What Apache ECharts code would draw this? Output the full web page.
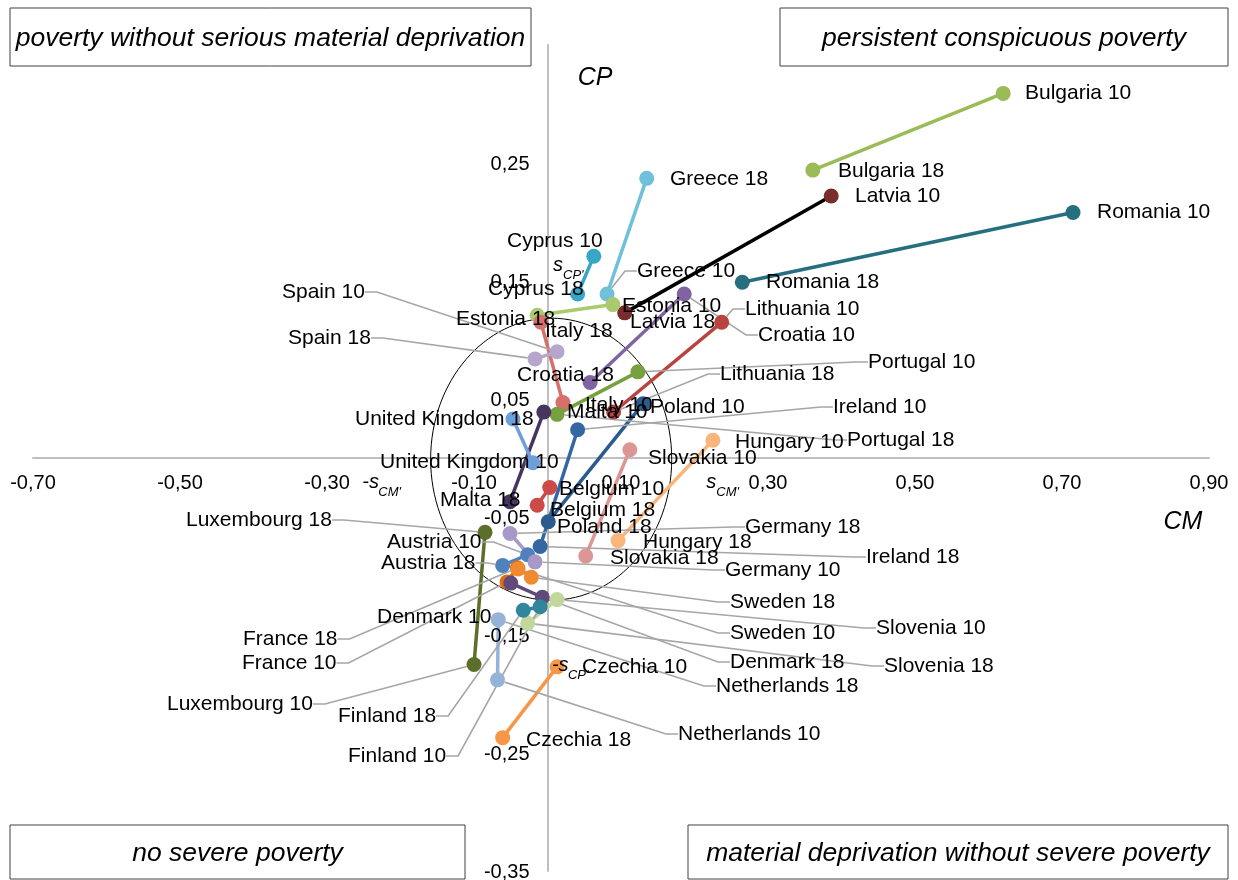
<!DOCTYPE html>
<html><head><meta charset="utf-8">
<script src="https://cdn.jsdelivr.net/npm/echarts@6/dist/echarts.min.js"></script>
<style>html,body{margin:0;padding:0;background:#fff}#c{width:1238px;height:880px}</style>
</head><body><div id="c"></div>
<script>
// ---- data ----
const countries = ['Bulgaria','Latvia','Romania','Greece','Cyprus','Estonia','Lithuania','Croatia','Italy','Spain','Portugal','Malta','United Kingdom','Poland','Ireland','Belgium','Slovakia','Hungary','Luxembourg','Czechia','Austria','Germany','France','Denmark','Sweden','Slovenia','Netherlands','Finland'];
const cm10 = [0.620,0.386,0.715,0.081,0.063,0.089,0.237,0.186,0.021,0.013,0.123,-0.005,-0.020,0.130,0.041,0.003,0.112,0.225,-0.100,0.013,-0.027,-0.017,-0.055,-0.050,-0.040,0.013,-0.068,-0.010];
const cp10 = [0.309,0.222,0.208,0.139,0.171,0.130,0.115,0.139,0.047,0.090,0.073,0.039,-0.004,0.046,0.024,-0.025,0.007,0.015,-0.175,-0.177,-0.082,-0.088,-0.105,-0.106,-0.094,-0.120,-0.188,-0.126];
const cm18 = [0.361,0.105,0.265,0.135,0.041,-0.014,0.090,0.058,-0.009,-0.017,0.013,-0.051,-0.047,0.001,-0.010,-0.014,0.052,0.096,-0.085,-0.061,-0.061,-0.051,-0.041,-0.007,-0.022,-0.027,-0.067,-0.033];
const cp18 = [0.244,0.123,0.149,0.237,0.139,0.121,0.039,0.064,0.115,0.084,0.037,-0.037,0.033,-0.054,-0.075,-0.040,-0.083,-0.070,-0.063,-0.237,-0.091,-0.064,-0.093,-0.118,-0.101,-0.140,-0.137,-0.129];
const xTickVals = [-0.70,-0.50,-0.30,-0.10,0.10,0.30,0.50,0.70,0.90];
const yTickVals = [-0.35,-0.25,-0.15,-0.05,0.05,0.15,0.25];
const xRange = [-0.70, 0.90], yRange = [-0.35, 0.35];
const ellipse = [[0.005, -0.001, 0.164, 0.1195]];
const sdMarks = [['s',"CP'",0.0075,0.161],['-s',"CM'",-0.252,-0.023],['s',"CM'",0.216,-0.023],['-s',"CP'",0.006,-0.178]];

// ---- styles ----
const markerColors = ['#9bbb59','#7b2c2c','#256f7f','#6fc0d8','#38a6c5','#a9cb6d','#b9433f','#8064a2','#d6706c','#b7a6cc','#77a03f','#46355e','#6e9fd8','#2b5b8e','#3366a3','#cc4a47','#dc9694','#fab57a','#5b6f2b','#f79646','#4f81bd','#a898c8','#e46c0a','#604a7b','#f08a30','#c3d69b','#95b3d7','#31859c'];
const lineColors = markerColors.map((c,i)=> countries[i]==='Latvia' ? '#000000' : c);
// label placement (left x, middle y in px, leader line)
const labelPos = {
 'Bulgaria 10':[1025,93,0],'Bulgaria 18':[838,171,0],'Latvia 10':[855,196,0],'Romania 10':[1097,212,0],
 'Greece 18':[670,179,0],'Romania 18':[766,282,0],'Cyprus 10':[507,241,0],'Cyprus 18':[488,289,0],
 'Greece 10':[637,271,1],'Estonia 10':[622,306,0],'Estonia 18':[456,319,0],'Latvia 18':[630,322,0],
 'Lithuania 10':[745,309,1],'Croatia 10':[758,335,1],'Italy 18':[545,331,0],'Spain 10':[282,292,1],
 'Spain 18':[288,338,1],'Portugal 10':[868,362,1],'Croatia 18':[517,375,0],'Lithuania 18':[720,374,1],
 'Italy 10':[585,405,0],'Poland 10':[650,407,0],'Ireland 10':[833,407,1],'Malta 10':[567,412,0],
 'United Kingdom 18':[355,419,0],'Hungary 10':[735,442,0],'Portugal 18':[847,440,1],'Slovakia 10':[648,458,0],
 'United Kingdom 10':[380,462,0],'Belgium 10':[559,489,0],'Malta 18':[440,500,0],'Belgium 18':[550,510,0],
 'Luxembourg 18':[186,520,1],'Poland 18':[557,527,0],'Germany 18':[745,527,1],'Hungary 18':[643,542,0],
 'Austria 10':[387,542,1],'Ireland 18':[866,557,1],'Slovakia 18':[610,558,0],'Austria 18':[381,563,1],
 'Germany 10':[725,570,1],'Sweden 18':[730,602,1],'Denmark 10':[377,617,0],'Slovenia 10':[876,628,1],
 'Sweden 10':[730,633,1],'France 18':[243,639,1],'Denmark 18':[730,662,1],'France 10':[242,663,1],
 'Slovenia 18':[884,666,1],'Czechia 10':[582,667,0],'Netherlands 18':[716,686,1],'Luxembourg 10':[167,704,1],
 'Finland 18':[338,716,1],'Netherlands 10':[678,734,1],'Czechia 18':[526,740,0],'Finland 10':[348,756,1]
};
const FONT = '"Liberation Sans", Arial, sans-serif';
const fmt = v => v.toFixed(2).replace('.', ',');

const series = [];
countries.forEach((c,i)=>{
  series.push({type:'line', silent:true, z:2, showSymbol:false, symbol:'none',
    data:[[cm10[i],cp10[i]],[cm18[i],cp18[i]]],
    lineStyle:{color:lineColors[i], width:3.5}, animation:false});
});
const pts = [];
countries.forEach((c,i)=>{
  [['10',cm10[i],cp10[i]],['18',cm18[i],cp18[i]]].forEach(([yr,x,y])=>{
    const name = c+' '+yr;
    const lp = labelPos[name];
    pts.push({name, value:[x,y], itemStyle:{color:markerColors[i], opacity:1},
      labelLine:{show: !!(lp && lp[2])}});
  });
});
// ellipse
series.push({type:'custom', z:1, silent:true, animation:false,
  data: ellipse,
  renderItem:(params, api)=>{
    const c = api.coord([api.value(0), api.value(1)]);
    const s = api.size([api.value(2), api.value(3)]);
    return {type:'ellipse', shape:{cx:c[0], cy:c[1], rx:s[0], ry:s[1]},
      style:{fill:null, stroke:'#000', lineWidth:1}};
  }});
// tick labels sitting on the zero lines
series.push({type:'custom', z:3, silent:true, animation:false,
  data: xTickVals.map(v=>[v,0]),
  renderItem:(params, api)=>{
    const v = xTickVals[params.dataIndex];
    const c = api.coord([v, 0]);
    return {type:'text', x:c[0], y:c[1]+25, style:{text:fmt(v), font:'20px '+FONT, fill:'#000', textAlign:'center', textVerticalAlign:'middle'}};
  }});
series.push({type:'custom', z:3, silent:true, animation:false,
  data: yTickVals.map(v=>[0,v]),
  renderItem:(params, api)=>{
    const v = yTickVals[params.dataIndex];
    const c = api.coord([0, v]);
    return {type:'text', x:c[0]-18, y:c[1]+1, style:{text:fmt(v), font:'20px '+FONT, fill:'#000', textAlign:'right', textVerticalAlign:'middle'}};
  }});
// s' marks
series.push({type:'custom', z:6, silent:true, animation:false,
  data: sdMarks.map(d=>[d[2],d[3]]),
  renderItem:(params, api)=>{
    const d = sdMarks[params.dataIndex];
    const c = api.coord([d[2], d[3]]);
    const main = d[0];
    const w = main.length>1 ? 16 : 10;
    return {type:'group', children:[
      {type:'text', x:c[0], y:c[1]-3, style:{text:main, font:'italic 20px '+FONT, fill:'#000', textVerticalAlign:'middle'}},
      {type:'text', x:c[0]+w, y:c[1]+7, style:{text:d[1], font:'italic 13px '+FONT, fill:'#000', textVerticalAlign:'middle'}}
    ]};
  }});
series.push({type:'scatter', z:5, symbolSize:15, animation:false, data: pts,
  itemStyle:{opacity:1},
  label:{show:true, position:'right', formatter:p=>p.name, color:'#000', fontSize:21, fontFamily:FONT},
  labelLine:{show:false, length2:12, lineStyle:{color:'#a6a6a6', width:1.6}},
  labelLayout:(p)=>{
    const lp = labelPos[pts[p.dataIndex].name];
    if(!lp) return {};
    return {x:lp[0], y:lp[1], align:'left', verticalAlign:'middle'};
  }});

const boxes = [
  {x:10,y:8,w:521,h:58,t:'poverty without serious material deprivation'},
  {x:780,y:8,w:448,h:58,t:'persistent conspicuous poverty'},
  {x:10,y:825,w:455,h:54,t:'no severe poverty'},
  {x:688,y:825,w:540,h:54,t:'material deprivation without severe poverty'}
];
const graphic = [];
boxes.forEach(b=>{
  graphic.push({type:'rect', shape:{x:b.x,y:b.y,width:b.w,height:b.h}, style:{fill:'#fff', stroke:'#404040', lineWidth:1}, z:10});
  graphic.push({type:'text', x:b.x+b.w/2, y:b.y+b.h/2+2, style:{text:b.t, font:'italic 26.5px '+FONT, fill:'#000', textAlign:'center', textVerticalAlign:'middle'}, z:11});
});
graphic.push({type:'text', x:595, y:78, style:{text:'CP', font:'italic 25px '+FONT, fill:'#000', textAlign:'center', textVerticalAlign:'middle'}, z:11});
graphic.push({type:'text', x:1183, y:522, style:{text:'CM', font:'italic 25px '+FONT, fill:'#000', textAlign:'center', textVerticalAlign:'middle'}, z:11});

const chart = echarts.init(document.getElementById('c'), null, {renderer:'canvas'});
chart.setOption({
  animation:false,
  grid:{left:33, right:29, top:45, bottom:9, containLabel:false, outerBoundsMode:'none'},
  xAxis:{type:'value', min:xRange[0], max:xRange[1], interval:0.2,
    axisLine:{onZero:true, lineStyle:{color:'#bfbfbf', width:2}}, axisTick:{show:false}, splitLine:{show:false},
    axisLabel:{show:false}},
  yAxis:{type:'value', min:yRange[0], max:yRange[1], interval:0.1,
    axisLine:{onZero:true, lineStyle:{color:'#bfbfbf', width:2}}, axisTick:{show:false}, splitLine:{show:false},
    axisLabel:{show:false}},
  series, graphic
});
</script></body></html>
